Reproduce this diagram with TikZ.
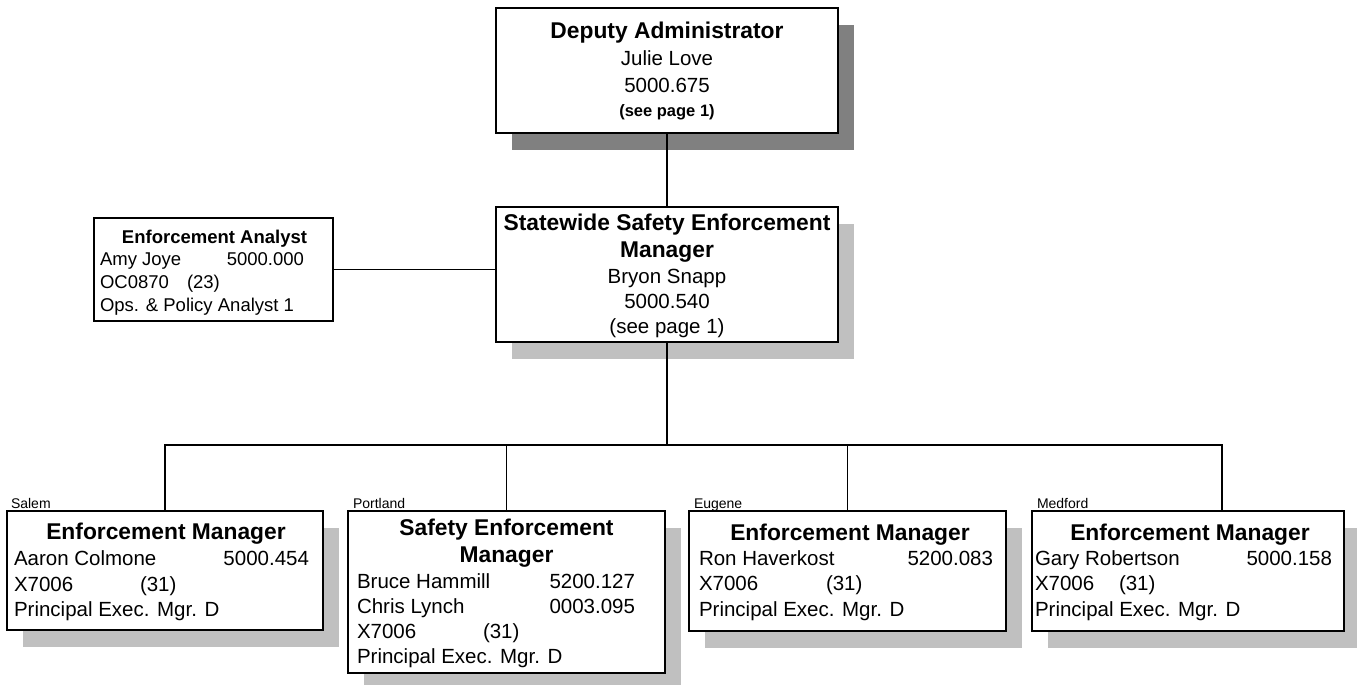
\documentclass[tikz,border=0pt]{standalone}
\usepackage{fontspec}
\setmainfont{Liberation Sans}
\usetikzlibrary{backgrounds}
\newcommand\hdfont{\fontsize{22.8}{26}\selectfont\bfseries}
\newcommand\bdfont{\fontsize{20.5}{26}\selectfont}
\newcommand\smbfont{\fontsize{16.5}{20}\selectfont\bfseries}
\newcommand\lbfont{\fontsize{14}{16}\selectfont}
\newcommand\anfont{\fontsize{18.5}{22}\selectfont}
\definecolor{shdark}{HTML}{808080}
\definecolor{shlight}{HTML}{C0C0C0}
\begin{document}
\begin{tikzpicture}[x=1pt,y=-1pt,
  box/.style={draw=black, line width=1.2pt, fill=white, anchor=north west, inner sep=0pt, outer sep=0pt},
  txt/.style={inner sep=0pt, outer sep=0pt, text=black},
  conn/.style={draw=black, line width=1.2pt},
  hd/.style={txt, anchor=base, font=\hdfont},
  bd/.style={txt, font=\bdfont},
  lb/.style={txt, anchor=base west, font=\lbfont},
  an/.style={txt, font=\anfont}]
\useasboundingbox (0,0) rectangle (1357,685);
\clip (0,0) rectangle (1357,685);

% boxes
\node[box, minimum width=342pt, minimum height=125pt] (deputy) at (496,8) {};
\node[box, minimum width=342pt, minimum height=135pt] (statewide) at (496,207) {};
\node[box, minimum width=239pt, minimum height=103pt] (analyst) at (94,218) {};
\node[box, minimum width=316pt, minimum height=119pt] (salem) at (7,511) {};
\node[box, minimum width=317pt, minimum height=162pt] (portland) at (348,511) {};
\node[box, minimum width=317pt, minimum height=120pt] (eugene) at (689,511) {};
\node[box, minimum width=312pt, minimum height=120pt] (medford) at (1032,511) {};

% shadows
\begin{scope}[on background layer]
  \fill[shdark] ([shift={(16,17)}]deputy.north west) rectangle ([shift={(16,17)}]deputy.south east);
  \foreach \b in {statewide,salem,portland,eugene,medford}
    \fill[shlight] ([shift={(16,17)}]\b.north west) rectangle ([shift={(16,17)}]\b.south east);
\end{scope}

% connectors
\coordinate (bus) at (667,445);
\coordinate (medstem) at ([xshift=34pt]medford.north);
\draw[conn] (deputy.south) -- (statewide.north);
\draw[conn] (analyst.east) -- (analyst.east -| statewide.west);
\draw[conn] (statewide.south) -- (bus);
\draw[conn] (salem.north) |- (bus);
\draw[conn] (portland.north) |- (bus);
\draw[conn] (eugene.north) |- (bus);
\draw[conn] (medstem) |- (bus);

% Deputy Administrator
\node[hd] (d1) at (667,39) {Deputy Administrator};
\node[bd, anchor=base] (d2) at (667,66) {Julie Love};
\node[bd, anchor=base] (d3) at (667,92.5) {5000.675};
\node[txt, anchor=base, font=\smbfont] (d4) at (667,116.5) {(see page 1)};

% Statewide
\node[hd] (s1) at (667,230) {Statewide Safety Enforcement};
\node[hd] (s2) at (667,257) {Manager};
\node[bd, anchor=base] (s3) at (667,283) {Bryon Snapp};
\node[bd, anchor=base] (s4) at (667,308) {5000.540};
\node[bd, anchor=base] (s5) at (667,333) {(see page 1)};

% Analyst
\node[an, anchor=base, font=\anfont\bfseries] (a1) at (214.5,243) {Enforcement Analyst};
\node[an, anchor=base west] (a2) at (100,265) {Amy Joye};
\node[an, anchor=base east] (a3) at (304,265) {5000.000};
\node[an, anchor=base west] (a4) at (100,288) {OC0870};
\node[an, anchor=base west] (a5) at (187,288) {(23)};
\node[an, anchor=base west] (a6) at (100,311) {Ops. \& Policy Analyst 1};

% Salem
\node[lb] (l1) at (11,508) {Salem};
\node[hd] (m1) at (166,539.5) {Enforcement Manager};
\node[bd, anchor=base west] (m2) at (14,565) {Aaron Colmone};
\node[bd, anchor=base east] (m3) at (309,565) {5000.454};
\node[bd, anchor=base west] (m4) at (14,591) {X7006};
\node[bd, anchor=base west] (m5) at (140,591) {(31)};
\node[bd, anchor=base west] (m6) at (14,616) {Principal Exec. Mgr. D};

% Portland
\node[lb] (l2) at (353,508) {Portland};
\node[hd] (p1) at (506.5,535) {Safety Enforcement};
\node[hd] (p2) at (506.5,562) {Manager};
\node[bd, anchor=base west] (p3) at (357,588) {Bruce Hammill};
\node[bd, anchor=base east] (p4) at (635,588) {5200.127};
\node[bd, anchor=base west] (p5) at (357,613) {Chris Lynch};
\node[bd, anchor=base east] (p6) at (635,613) {0003.095};
\node[bd, anchor=base west] (p7) at (357,638) {X7006};
\node[bd, anchor=base west] (p8) at (483,638) {(31)};
\node[bd, anchor=base west] (p9) at (357,663) {Principal Exec. Mgr. D};

% Eugene
\node[lb] (l3) at (694,508) {Eugene};
\node[hd] (e1) at (850,540) {Enforcement Manager};
\node[bd, anchor=base west] (e2) at (699,565) {Ron Haverkost};
\node[bd, anchor=base east] (e3) at (993,565) {5200.083};
\node[bd, anchor=base west] (e4) at (699,590) {X7006};
\node[bd, anchor=base west] (e5) at (826,590) {(31)};
\node[bd, anchor=base west] (e6) at (699,616) {Principal Exec. Mgr. D};

% Medford
\node[lb] (l4) at (1037,508) {Medford};
\node[hd] (f1) at (1190,540) {Enforcement Manager};
\node[bd, anchor=base west] (f2) at (1035,565) {Gary Robertson};
\node[bd, anchor=base east] (f3) at (1332,565) {5000.158};
\node[bd, anchor=base west] (f4) at (1035,590) {X7006};
\node[bd, anchor=base west] (f5) at (1119,590) {(31)};
\node[bd, anchor=base west] (f6) at (1035,616) {Principal Exec. Mgr. D};
\end{tikzpicture}
\end{document}
